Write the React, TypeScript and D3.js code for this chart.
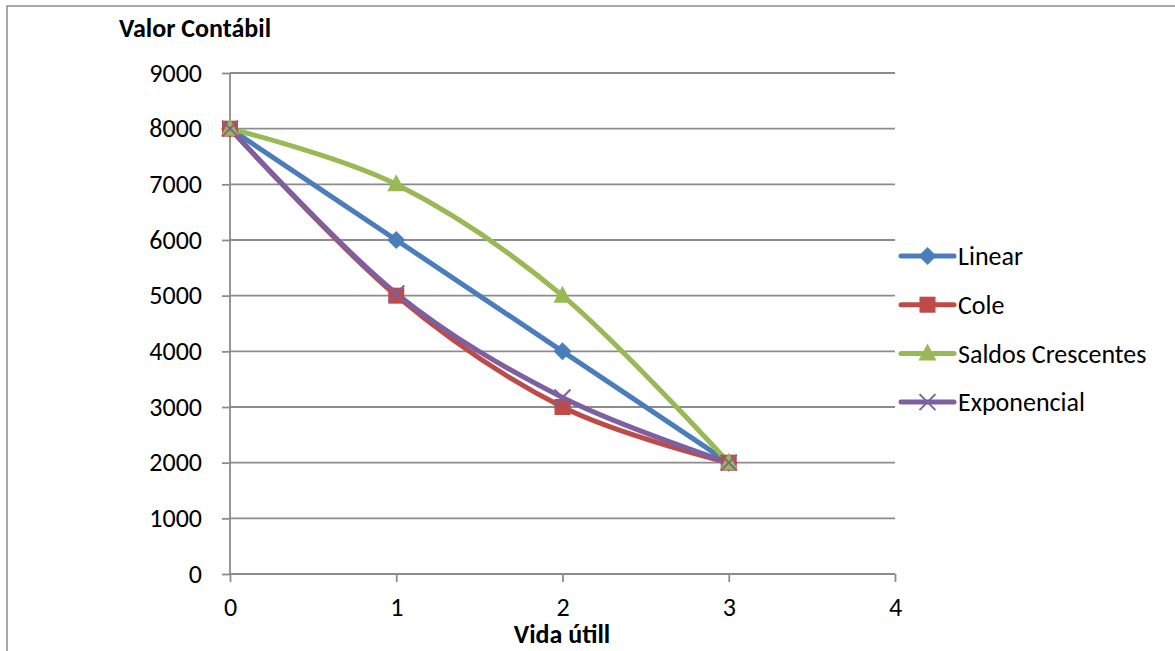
import { useEffect, useRef } from "react";
import * as d3 from "d3";

const years = [0, 1, 2, 3];
const linear = [8000, 6000, 4000, 2000];
const cole = [8000, 5000, 3000, 2000];
const saldos = [8000, 7000, 5000, 2000];
const exponencial = [8000, 5040, 3170, 2000];
const yTicks = [0, 1000, 2000, 3000, 4000, 5000, 6000, 7000, 8000, 9000];
const xTicks = [0, 1, 2, 3, 4];

type Series = { name: string; values: number[]; color: string; marker: string };

const series: Series[] = [
  { name: "Linear", values: linear, color: "#4a7ebb", marker: "diamond" },
  { name: "Cole", values: cole, color: "#be4b48", marker: "square" },
  { name: "Saldos Crescentes", values: saldos, color: "#98b954", marker: "triangle" },
  { name: "Exponencial", values: exponencial, color: "#7d60a0", marker: "x" },
];

const FONT = "Carlito, Lato, 'Liberation Sans', sans-serif";
const GRID = "#8c8c8c";

function drawMarker(
  g: d3.Selection<SVGGElement, unknown, null, undefined>,
  kind: string,
  color: string,
  cx: number,
  cy: number
) {
  if (kind === "diamond") {
    g.append("path")
      .attr("d", `M${cx},${cy - 9}L${cx + 9},${cy}L${cx},${cy + 9}L${cx - 9},${cy}Z`)
      .attr("fill", color);
  } else if (kind === "square") {
    g.append("rect")
      .attr("x", cx - 8)
      .attr("y", cy - 8)
      .attr("width", 16)
      .attr("height", 16)
      .attr("fill", color);
  } else if (kind === "triangle") {
    g.append("path")
      .attr("d", `M${cx},${cy - 10}L${cx + 9},${cy + 7}L${cx - 9},${cy + 7}Z`)
      .attr("fill", color);
  } else {
    g.append("path")
      .attr("d", `M${cx - 8},${cy - 8}L${cx + 8},${cy + 8}M${cx + 8},${cy - 8}L${cx - 8},${cy + 8}`)
      .attr("stroke", color)
      .attr("stroke-width", 2)
      .attr("fill", "none");
  }
}

export default function App() {
  const svgRef = useRef<SVGSVGElement | null>(null);

  useEffect(() => {
    const svg = svgRef.current;
    if (!svg) return;
    svg.innerHTML = "";
    const root = d3.select(svg);

    const x = d3.scaleLinear().domain([0, 4]).range([230, 895]);
    const y = d3.scaleLinear().domain([0, 9000]).range([574, 73]);

    // frame
    root.append("rect")
      .attr("x", 7)
      .attr("y", 6)
      .attr("width", 1200)
      .attr("height", 700)
      .attr("fill", "none")
      .attr("stroke", GRID)
      .attr("stroke-width", 1.5);

    // gridlines
    root.append("g")
      .selectAll("line")
      .data(yTicks.filter((t) => t > 0))
      .join("line")
      .attr("x1", x(0))
      .attr("x2", x(4))
      .attr("y1", (d) => y(d))
      .attr("y2", (d) => y(d))
      .attr("stroke", GRID)
      .attr("stroke-width", 1.8);

    // y axis
    const ya = root.append("g")
      .attr("transform", `translate(${x(0)},0)`)
      .call(d3.axisLeft(y).tickValues(yTicks).tickSize(8).tickPadding(20).tickFormat(d3.format("d")));
    ya.selectAll(".tick line").attr("stroke", GRID).attr("stroke-width", 1.8);
    ya.selectAll(".tick text")
      .attr("font-family", FONT)
      .attr("font-size", 26)
      .attr("fill", "#000");

    // x axis
    const xa = root.append("g")
      .attr("transform", `translate(0,${y(0)})`)
      .call(d3.axisBottom(x).tickValues(xTicks).tickSize(8).tickPadding(16).tickFormat(d3.format("d")));
    xa.selectAll(".tick line").attr("stroke", GRID).attr("stroke-width", 1.8);
    xa.selectAll(".tick text")
      .attr("font-family", FONT)
      .attr("font-size", 26)
      .attr("fill", "#000");
    root.selectAll(".domain").remove();
    xa.append("line")
      .attr("x1", x(0)).attr("x2", x(4)).attr("y1", 0).attr("y2", 0)
      .attr("stroke", GRID).attr("stroke-width", 1.8);
    ya.append("line")
      .attr("x1", 0).attr("x2", 0).attr("y1", y(9000)).attr("y2", y(0))
      .attr("stroke", GRID).attr("stroke-width", 1.8);

    // titles
    root.append("text")
      .attr("x", 119)
      .attr("y", 37)
      .attr("font-family", FONT)
      .attr("font-weight", "bold")
      .attr("font-size", 26)
      .text("Valor Contábil");
    root.append("text")
      .attr("x", 562)
      .attr("y", 643)
      .attr("text-anchor", "middle")
      .attr("font-family", FONT)
      .attr("font-weight", "bold")
      .attr("font-size", 26)
      .text("Vida útill");

    // series
    const line = d3
      .line<number>()
      .x((_, i) => x(years[i]))
      .y((d) => y(d))
      .curve(d3.curveCardinal.tension(0));

    series.forEach((s) => {
      root.append("path")
        .attr("d", line(s.values))
        .attr("fill", "none")
        .attr("stroke", s.color)
        .attr("stroke-width", 5)
        .attr("stroke-linejoin", "round")
        .attr("stroke-linecap", "round");
    });
    series.forEach((s) => {
      const mg = root.append("g");
      s.values.forEach((v, i) => drawMarker(mg, s.marker, s.color, x(years[i]), y(v)));
    });

    // legend
    const legend = root.append("g");
    series.forEach((s, i) => {
      const ly = 256 + i * 48.7;
      legend.append("line")
        .attr("x1", 901)
        .attr("x2", 954)
        .attr("y1", ly)
        .attr("y2", ly)
        .attr("stroke", s.color)
        .attr("stroke-width", 5)
        .attr("stroke-linecap", "round");
      drawMarker(legend, s.marker, s.color, 927.5, ly);
      legend.append("text")
        .attr("x", 958)
        .attr("y", ly)
        .attr("dy", "0.35em")
        .attr("font-family", FONT)
        .attr("font-size", 26)
        .text(s.name);
    });
  }, []);

  return (
    <svg
      ref={svgRef}
      width={1175}
      height={651}
      style={{ position: "absolute", left: 0, top: 0, background: "#fff" }}
    />
  );
}
